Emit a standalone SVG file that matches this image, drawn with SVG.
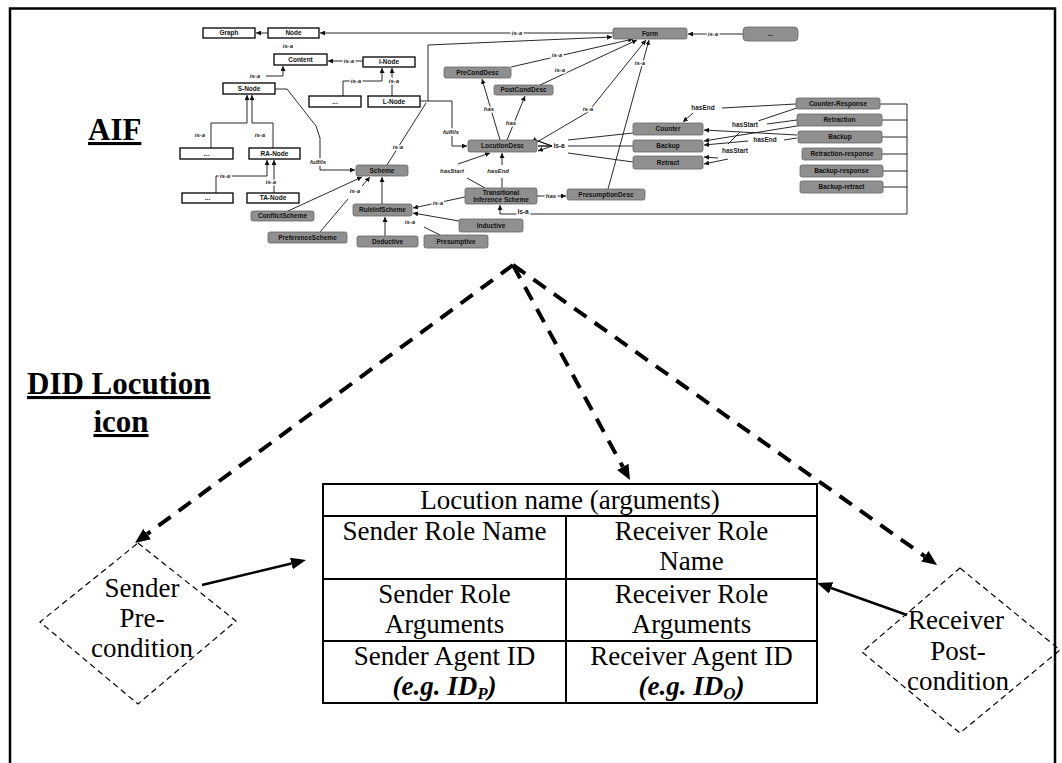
<svg xmlns="http://www.w3.org/2000/svg" width="1062" height="763" viewBox="0 0 1062 763">
<style>
.wb{fill:#fff;stroke:#000;stroke-width:1.3}
.gb{fill:#8f8f8f;stroke:#666;stroke-width:0.8}
.nt{font-family:"Liberation Sans",Arial,sans-serif;font-weight:bold;font-size:6.5px;text-anchor:middle;fill:#111}
.lb{font-family:"Liberation Sans",Arial,sans-serif;font-style:italic;font-weight:bold;font-size:6px;text-anchor:middle;fill:#222;stroke:#fff;stroke-width:3;paint-order:stroke}
.lr{font-family:"Liberation Sans",Arial,sans-serif;font-weight:bold;font-size:6.5px;text-anchor:middle;fill:#222;stroke:#fff;stroke-width:3;paint-order:stroke}
.c{fill:none;stroke:#111;stroke-width:0.9}
.tx{font-family:"Liberation Serif","Times New Roman",serif;font-size:27px;text-anchor:middle;fill:#000}
.bi{font-weight:bold;font-style:italic}
.hd{font-family:"Liberation Serif","Times New Roman",serif;font-weight:bold;font-size:31px;text-decoration:underline;fill:#000}
.tb{fill:#fff;stroke:#000;stroke-width:2}
.dm{fill:none;stroke:#000;stroke-width:1.2;stroke-dasharray:6 4}
.dl{fill:none;stroke:#000;stroke-width:4;stroke-dasharray:15 10}
.sl{fill:none;stroke:#000;stroke-width:2.5}
</style>
<defs>
<marker id="a" viewBox="0 0 6 6" refX="6" refY="3" markerWidth="5" markerHeight="5" markerUnits="userSpaceOnUse" orient="auto"><path d="M0,0 L6,3 L0,6 z" fill="#111"/></marker>
<marker id="d" viewBox="0 0 15 13" refX="0" refY="6.5" markerWidth="15" markerHeight="13" markerUnits="userSpaceOnUse" orient="auto"><path d="M0,0 L15,6.5 L0,13 z" fill="#000"/></marker>
<marker id="s" viewBox="0 0 15 12" refX="0" refY="6" markerWidth="15" markerHeight="12" markerUnits="userSpaceOnUse" orient="auto"><path d="M0,0 L15,6 L0,12 z" fill="#000"/></marker>
</defs>
<rect width="1062" height="763" fill="#fff"/>
<g id="frame" fill="none" stroke="#000" stroke-width="2.5">
<path d="M10,763 V8.5 H1055 V763"/>
</g>
<text id="aif-title" class="hd" x="88" y="140">AIF</text>
<g id="did-title" class="hd">
<text x="27" y="394">DID Locution</text>
<text x="121" y="432" text-anchor="middle">icon</text>
</g>
<g id="aif-connectors">
<path class="c" d="M268,33 H256" marker-end="url(#a)"/>
<path class="c" d="M613,33 H320" marker-end="url(#a)"/>
<text class="lb" x="517" y="35">is-a</text>
<path class="c" d="M420,101 H428 V45 L612,37" marker-end="url(#a)"/>
<path class="c" d="M428,101 H452 V146 H467" marker-end="url(#a)"/>
<text class="lb" x="451" y="134">fulfils</text>
<path class="c" d="M426,103 L387,165"/>
<text class="lb" x="398" y="149">is-a</text>
<path class="c" d="M275,89 H287 L316,126 L320,138 V170 H355" marker-end="url(#a)"/>
<text class="lb" x="318" y="164">fulfils</text>
<text class="lb" x="255" y="78">is-a</text>
<path class="c" d="M266,76 H283 V66" marker-end="url(#a)"/>
<text class="lb" x="288" y="48">is-a</text>
<path class="c" d="M363,61 H328" marker-end="url(#a)"/>
<text class="lb" x="349" y="63">is-a</text>
<path class="c" d="M343,96 V81 H382 V68" marker-end="url(#a)"/>
<text class="lb" x="356" y="83">is-a</text>
<path class="c" d="M392,96 V68" marker-end="url(#a)"/>
<text class="lb" x="394" y="83">is-a</text>
<path class="c" d="M211,148 V123 H247 V95" marker-end="url(#a)"/>
<text class="lb" x="200" y="137">is-a</text>
<path class="c" d="M273,148 V123 H252 V95" marker-end="url(#a)"/>
<text class="lb" x="260" y="137">is-a</text>
<path class="c" d="M216,193 V176 H267 V160" marker-end="url(#a)"/>
<text class="lb" x="225" y="178">is-a</text>
<path class="c" d="M274,193 V160" marker-end="url(#a)"/>
<text class="lb" x="271" y="184">is-a</text>
<path class="c" d="M288,211 L362,177" marker-end="url(#a)"/>
<path class="c" d="M320,232 L348,199"/>
<text class="lb" x="355" y="193">is-a</text>
<path class="c" d="M362,186 L370,177" marker-end="url(#a)"/>
<path class="c" d="M382,204 V177" marker-end="url(#a)"/>
<path class="c" d="M385,236 V217" marker-end="url(#a)"/>
<path class="c" d="M465,197 L413,208" marker-end="url(#a)"/>
<text class="lb" x="438" y="205">is-a</text>
<path class="c" d="M459,221 L413,213" marker-end="url(#a)"/>
<path class="c" d="M440,235 L424,227"/>
<text class="lb" x="410" y="224">is-a</text>
<path class="c" d="M907,104 V214 H500 V205" marker-end="url(#a)"/>
<text class="lr" x="523" y="214">is-a</text>
<path class="c" d="M880,104 H907 M882,120 H907 M882,137 H907 M882,154 H907 M883,171 H907 M883,187 H907"/>
<path class="c" d="M537,196 H566" marker-end="url(#a)"/>
<text class="lb" x="551" y="198">has</text>
<path class="c" d="M485,188 L467,178"/>
<text class="lb" x="452" y="173">hasStart</text>
<path class="c" d="M458,164 L490,153" marker-end="url(#a)"/>
<path class="c" d="M502,188 V178"/>
<text class="lb" x="498" y="173">hasEnd</text>
<path class="c" d="M502,165 V153" marker-end="url(#a)"/>
<path class="c" d="M500,140 L482,79" marker-end="url(#a)"/>
<text class="lb" x="489" y="111">has</text>
<path class="c" d="M507,140 L525,96" marker-end="url(#a)"/>
<text class="lb" x="511" y="125">has</text>
<path class="c" d="M511,67 L633,39" marker-end="url(#a)"/>
<text class="lb" x="557" y="57">is-a</text>
<path class="c" d="M540,85 L637,40" marker-end="url(#a)"/>
<text class="lb" x="560" y="72">is-a</text>
<path class="c" d="M537,142 L588,112 L646,40" marker-end="url(#a)"/>
<text class="lb" x="588" y="111">is-a</text>
<path class="c" d="M608,189 L649,40" marker-end="url(#a)"/>
<text class="lb" x="640" y="65">is-a</text>
<path class="c" d="M743,34 H688" marker-end="url(#a)"/>
<text class="lb" x="713" y="36">is-a</text>
<path class="c" d="M633,133 L568,140 M633,146 H568 M633,162 L568,153"/>
<path class="c" d="M552,146 L538,141 M552,146 H538 M552,146 L538,151" marker-end="url(#a)"/>
<text class="lr" x="559" y="148">is-a</text>
<path class="c" d="M538,141 L552,146 M538,146 H552" marker-start="url(#a)"/>
<path class="c" d="M722,108 L796,104"/>
<text class="lr" x="703" y="110">hasEnd</text>
<path class="c" d="M693,113 L683,122" marker-end="url(#a)"/>
<path class="c" d="M758,121 L797,108 M767,124 L797,120"/>
<text class="lr" x="745" y="127">hasStart</text>
<path class="c" d="M797,135 L704,130" marker-end="url(#a)"/>
<path class="c" d="M803,125 L704,141" marker-end="url(#a)"/>
<path class="c" d="M748,141 L704,145" marker-end="url(#a)"/>
<path class="c" d="M740,132 L728,144"/>
<text class="lr" x="765" y="142">hasEnd</text>
<path class="c" d="M784,140 L797,138"/>
<text class="lr" x="735" y="153">hasStart</text>
<path class="c" d="M728,159 L704,164" marker-end="url(#a)"/>
<path class="c" d="M718,158 L704,157" marker-end="url(#a)"/>
</g>
<g id="n-graph"><rect class="wb" x="203" y="28" width="52" height="10"/><text class="nt" x="229" y="35.3">Graph</text></g>
<g id="n-node"><rect class="wb" x="268" y="28" width="51" height="10"/><text class="nt" x="293.5" y="35.3">Node</text></g>
<g id="n-content"><rect class="wb" x="274" y="54" width="53" height="11"/><text class="nt" x="300.5" y="61.8">Content</text></g>
<g id="n-inode"><rect class="wb" x="363" y="57" width="52" height="10"/><text class="nt" x="389" y="64.3">I-Node</text></g>
<g id="n-snode"><rect class="wb" x="223" y="83" width="52" height="11"/><text class="nt" x="249" y="90.8">S-Node</text></g>
<g id="n-dots1"><rect class="wb" x="309" y="96" width="52" height="11"/><text class="nt" x="335" y="103.8">...</text></g>
<g id="n-lnode"><rect class="wb" x="368" y="96" width="52" height="11"/><text class="nt" x="394" y="103.8">L-Node</text></g>
<g id="n-dots2"><rect class="wb" x="180" y="148" width="53" height="11"/><text class="nt" x="206.5" y="155.8">...</text></g>
<g id="n-ranode"><rect class="wb" x="249" y="148" width="51" height="11"/><text class="nt" x="274.5" y="155.8">RA-Node</text></g>
<g id="n-dots3"><rect class="wb" x="182" y="193" width="51" height="10"/><text class="nt" x="207.5" y="200.3">...</text></g>
<g id="n-tanode"><rect class="wb" x="247" y="193" width="52" height="10"/><text class="nt" x="273" y="200.3">TA-Node</text></g>
<g id="n-form"><rect class="gb" x="613" y="28" width="74" height="11" rx="2"/><text class="nt" x="650" y="35.8">Form</text></g>
<g id="n-dots4"><rect class="gb" x="743" y="27" width="55" height="14" rx="4"/><text class="nt" x="770.5" y="36.3">...</text></g>
<g id="n-precond"><rect class="gb" x="444" y="67" width="67" height="11" rx="2"/><text class="nt" x="477.5" y="74.8">PreCondDesc</text></g>
<g id="n-postcond"><rect class="gb" x="494" y="85" width="59" height="10" rx="2"/><text class="nt" x="523.5" y="92.3">PostCondDesc</text></g>
<g id="n-locdesc"><rect class="gb" x="468" y="140" width="69" height="12" rx="2"/><text class="nt" x="502.5" y="148.3">LocutionDesc</text></g>
<g id="n-counter"><rect class="gb" x="633" y="123" width="70" height="12" rx="2"/><text class="nt" x="668" y="131.3">Counter</text></g>
<g id="n-backup"><rect class="gb" x="633" y="140" width="70" height="12" rx="2"/><text class="nt" x="668" y="148.3">Backup</text></g>
<g id="n-retract"><rect class="gb" x="633" y="156" width="70" height="13" rx="2"/><text class="nt" x="668" y="164.8">Retract</text></g>
<g id="n-counterresp"><rect class="gb" x="796" y="98" width="84" height="11" rx="2"/><text class="nt" x="838" y="105.8">Counter-Response</text></g>
<g id="n-retraction"><rect class="gb" x="797" y="114" width="85" height="12" rx="2"/><text class="nt" x="839.5" y="122.3">Retraction</text></g>
<g id="n-backup2"><rect class="gb" x="798" y="131" width="84" height="12" rx="2"/><text class="nt" x="840" y="139.3">Backup</text></g>
<g id="n-retrresp"><rect class="gb" x="802" y="148" width="80" height="12" rx="2"/><text class="nt" x="842" y="156.3">Retraction-response</text></g>
<g id="n-backupresp"><rect class="gb" x="800" y="165" width="83" height="12" rx="2"/><text class="nt" x="841.5" y="173.3">Backup-response</text></g>
<g id="n-backupretr"><rect class="gb" x="800" y="181" width="83" height="12" rx="2"/><text class="nt" x="841.5" y="189.3">Backup-retract</text></g>
<g id="n-scheme"><rect class="gb" x="356" y="165" width="52" height="11" rx="2"/><text class="nt" x="382" y="172.8">Scheme</text></g>
<g id="n-conflict"><rect class="gb" x="251" y="211" width="63" height="10" rx="2"/><text class="nt" x="282.5" y="218.3">ConflictScheme</text></g>
<g id="n-preference"><rect class="gb" x="268" y="232" width="79" height="11" rx="2"/><text class="nt" x="307.5" y="239.8">PreferenceScheme</text></g>
<g id="n-ruleinf"><rect class="gb" x="353" y="204" width="59" height="12" rx="2"/><text class="nt" x="382.5" y="212.3">RuleInfScheme</text></g>
<g id="n-deductive"><rect class="gb" x="357" y="236" width="61" height="11" rx="2"/><text class="nt" x="387.5" y="243.8">Deductive</text></g>
<g id="n-presumptive"><rect class="gb" x="424" y="235" width="64" height="13" rx="2"/><text class="nt" x="456" y="243.8">Presumptive</text></g>
<g id="n-inductive"><rect class="gb" x="459" y="219" width="64" height="13" rx="2"/><text class="nt" x="491" y="227.8">Inductive</text></g>
<g id="n-tis"><rect class="gb" x="465" y="188" width="72" height="16" rx="2"/><text class="nt" x="501" y="195">Transitional</text><text class="nt" x="501" y="202">Inference Scheme</text></g>
<g id="n-presdesc"><rect class="gb" x="567" y="189" width="78" height="11" rx="2"/><text class="nt" x="606" y="196.8">PresumptionDesc</text></g>
<g id="connectors">
<path class="dl" d="M513,265 L147.1,534.1" marker-end="url(#d)"/>
<path class="dl" d="M513,265 L622.8,466.8" marker-end="url(#d)"/>
<path class="dl" d="M513,265 L924.8,556.3" marker-end="url(#d)"/>
<path class="sl" d="M202,585 L291.4,563.5" marker-end="url(#s)"/>
<path class="sl" d="M907,615 L831.1,588" marker-end="url(#s)"/>
</g>
<g id="locution-table">
<rect class="tb" x="323" y="484" width="494" height="219"/>
<path fill="none" stroke="#000" stroke-width="2" d="M323,516 H817 M323,579 H817 M323,641 H817 M566,516 V703"/>
<text class="tx" x="570" y="509">Locution name (arguments)</text>
<text class="tx" x="444.5" y="540">Sender Role Name</text>
<text class="tx" x="691.5" y="540">Receiver Role</text>
<text class="tx" x="691.5" y="570">Name</text>
<text class="tx" x="444.5" y="603">Sender Role</text>
<text class="tx" x="444.5" y="633">Arguments</text>
<text class="tx" x="691.5" y="603">Receiver Role</text>
<text class="tx" x="691.5" y="633">Arguments</text>
<text class="tx" x="444.5" y="665">Sender Agent ID</text>
<text class="tx bi" x="444.5" y="695">(e.g. ID<tspan font-size="17" dy="4">P</tspan><tspan dy="-4">)</tspan></text>
<text class="tx" x="691.5" y="665">Receiver Agent ID</text>
<text class="tx bi" x="691.5" y="695">(e.g. ID<tspan font-size="17" dy="4">O</tspan><tspan dy="-4">)</tspan></text>
</g>
<g id="sender-precondition">
<path class="dm" d="M138,543 L236,621 L138,704 L40,622 Z"/>
<text class="tx" x="142" y="597">Sender</text>
<text class="tx" x="142" y="627">Pre-</text>
<text class="tx" x="142" y="657">condition</text>
</g>
<g id="receiver-postcondition">
<path class="dm" d="M960,568 L1060,650 L960,733 L862,652 Z"/>
<text class="tx" x="956" y="629">Receiver</text>
<text class="tx" x="958" y="660">Post-</text>
<text class="tx" x="958" y="690">condition</text>
</g>
</svg>
